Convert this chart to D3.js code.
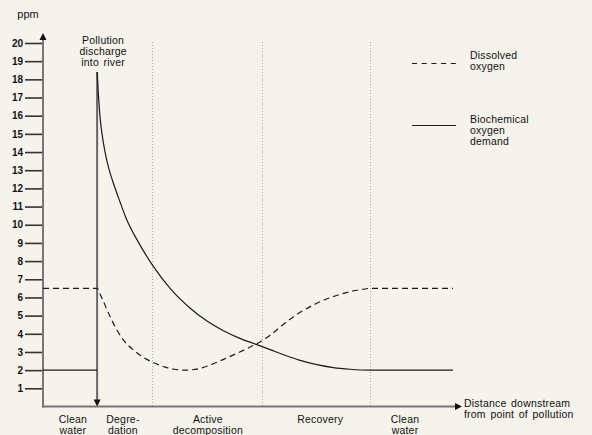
<!DOCTYPE html>
<html>
<head>
<meta charset="utf-8">
<script src="https://cdn.jsdelivr.net/npm/d3@7/dist/d3.min.js"></script>
<style>
  html, body { margin: 0; padding: 0; background: #f6f3ec; }
  svg { display: block; }
  text { font-family: "Liberation Sans", Arial, Helvetica, sans-serif; fill: #111; }
</style>
</head>
<body>
<svg id="chart" width="592" height="435"></svg>
<script>
// ---- data ----
const yTicks = [1,2,3,4,5,6,7,8,9,10,11,12,13,14,15,16,17,18,19,20];
const pollutionAt = 13.2;                 // distance units (0..100)
const zoneBoundaries = [26.6, 53.4, 79.8];
const zoneLabels = [["Clean","water"],["Degre-","dation"],["Active","decomposition"],["Recovery"],["Clean","water"]];
const zoneLabelAt = [7.3, 19.5, 40.2, 67.6, 88.3];

// Dissolved oxygen (ppm) vs distance
const doDist = [0, 13.2, 14.0, 14.6, 16.3, 18.0, 19.6, 22.4, 24.5, 26.7, 29.8, 32.0, 34.2, 36.3, 38.3, 41.0, 43.9, 48.0, 52.0, 55.4, 58.5, 62.7, 66.8, 70.7, 74.9, 78.0, 79.8, 100];
const doPpm  = [6.5, 6.5, 6.15, 5.85, 4.98, 4.22, 3.66, 3.05, 2.7, 2.44, 2.17, 2.05, 2.0, 2.02, 2.1, 2.3, 2.58, 3.0, 3.44, 3.92, 4.5, 5.18, 5.68, 6.04, 6.32, 6.45, 6.5, 6.5];

// Biochemical oxygen demand (ppm) vs distance
const bodBeforeDist = [0, 13.2];
const bodBeforePpm  = [2, 2];
const bodDist = [13.2, 13.5, 13.9, 14.7, 15.5, 16.3, 17.15, 18.8, 20.2, 23.5, 26.7, 31.0, 35.9, 40.0, 43.9, 48.0, 52.0, 55.4, 58.5, 62.5, 66.8, 70.8, 74.9, 79.8, 100];
const bodPpm  = [18.4, 17.2, 15.95, 14.55, 13.6, 12.9, 12.3, 11.25, 10.4, 8.95, 7.78, 6.5, 5.41, 4.7, 4.18, 3.75, 3.42, 3.13, 2.86, 2.55, 2.3, 2.14, 2.05, 2.0, 2.0];

const legendLabels = [["Dissolved","oxygen"],["Biochemical","oxygen","demand"]];

// ---- chart ----
const svg = d3.select("#chart");
const x = d3.scaleLinear().domain([0, 100]).range([43, 453]);
const y = d3.scaleLinear().domain([0, 20]).range([406.5, 43]);
const ink = "#1c1c1c", axisGrey = "#777";

// dotted zone boundaries
svg.append("g").selectAll("line").data(zoneBoundaries).join("line")
  .attr("x1", d => Math.round(x(d)) + 0.5).attr("x2", d => Math.round(x(d)) + 0.5)
  .attr("y1", y(20) - 1).attr("y2", y(0))
  .attr("stroke", "#a8a8a8").attr("stroke-width", 1).attr("stroke-dasharray", "1,2");

// y axis ticks + labels
const yAxis = svg.append("g").attr("transform", `translate(${x(0)},0)`)
  .call(d3.axisLeft(y).tickValues(yTicks).tickSize(18).tickPadding(2).tickFormat(d3.format("d")));
yAxis.select(".domain").remove();
yAxis.selectAll(".tick line").attr("stroke", "#333").attr("stroke-width", 1.6);
yAxis.selectAll(".tick text").attr("font-size", 10).attr("font-weight", "bold")
  .attr("font-family", "Liberation Sans, Arial, sans-serif").attr("fill", "#111");

// axes lines with arrows
svg.append("line").attr("x1", x(0)).attr("x2", x(0)).attr("y1", y(0) + 1).attr("y2", 40)
  .attr("stroke", axisGrey).attr("stroke-width", 2);
svg.append("path").attr("d", `M${x(0)},33 L${x(0)-3.5},40 L${x(0)+3.5},40 Z`).attr("fill", "#111");
svg.append("line").attr("x1", x(0) - 1).attr("x2", 455).attr("y1", y(0)).attr("y2", y(0))
  .attr("stroke", axisGrey).attr("stroke-width", 2);
svg.append("path").attr("d", `M462,${y(0)} L455,${y(0)-3.5} L455,${y(0)+3.5} Z`).attr("fill", "#111");

// pollution discharge arrow
const px = x(pollutionAt);
svg.append("line").attr("x1", px).attr("x2", px).attr("y1", y(18.4)).attr("y2", y(0) - 6)
  .attr("stroke", "#666").attr("stroke-width", 2);
svg.append("path").attr("d", `M${px},${y(0)} L${px-3.5},${y(0)-7} L${px+3.5},${y(0)-7} Z`).attr("fill", "#111");

// curves
const line = d3.line().x(d => x(d[0])).y(d => y(d[1])).curve(d3.curveMonotoneX);
const lineStraight = d3.line().x(d => x(d[0])).y(d => y(d[1]));
svg.append("path").datum(doDist.map((d, i) => [d, doPpm[i]]))
  .attr("d", line).attr("fill", "none").attr("stroke", ink).attr("stroke-width", 1.2)
  .attr("stroke-dasharray", "6,4");
svg.append("path").datum(bodBeforeDist.map((d, i) => [d, bodBeforePpm[i]]))
  .attr("d", lineStraight).attr("fill", "none").attr("stroke", ink).attr("stroke-width", 1.2);
svg.append("path").datum(bodDist.map((d, i) => [d, bodPpm[i]]))
  .attr("d", line).attr("fill", "none").attr("stroke", ink).attr("stroke-width", 1.2);

// text helper
function multiline(g, lines, cx, cy, anchor, lh) {
  const t = g.append("text").attr("x", cx).attr("y", cy).attr("text-anchor", anchor)
    .attr("font-size", 10.5).attr("letter-spacing", 0.2).attr("word-spacing", 1.5);
  lines.forEach((s, i) => t.append("tspan").attr("x", cx).attr("dy", i === 0 ? 0 : lh).text(s));
  return t;
}

// ppm label
svg.append("text").attr("x", 28).attr("y", 18).attr("text-anchor", "middle")
  .attr("font-size", 11).text("ppm");

// pollution label
multiline(svg, ["Pollution", "discharge", "into river"], px + 6, 43.8, "middle", 11);

// zone labels
zoneLabels.forEach((lines, i) => multiline(svg, lines, x(zoneLabelAt[i]), 423.3, "middle", 11));

// x axis title
multiline(svg, ["Distance downstream", "from point of pollution"], 464, 406.5, "start", 11);

// legend
svg.append("line").attr("x1", 412).attr("x2", 456).attr("y1", 63.5).attr("y2", 63.5)
  .attr("stroke", ink).attr("stroke-width", 1.2).attr("stroke-dasharray", "5,4.7");
multiline(svg, legendLabels[0], 470, 58.8, "start", 11);
svg.append("line").attr("x1", 412).attr("x2", 456).attr("y1", 125.5).attr("y2", 125.5)
  .attr("stroke", ink).attr("stroke-width", 1.2);
multiline(svg, legendLabels[1], 470, 122.8, "start", 11);
</script>
</body>
</html>
